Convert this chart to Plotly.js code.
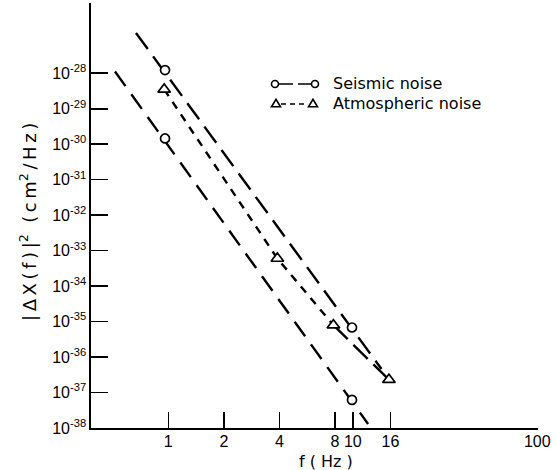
<!DOCTYPE html>
<html>
<head>
<meta charset="utf-8">
<script src="https://cdn.plot.ly/plotly-3.0.1.min.js"></script>
<style>html,body{margin:0;padding:0;background:#fff;}#chart{width:557px;height:470px;}</style>
</head>
<body>
<div id="chart"></div>
<script>
// ---- data ----
const seismicF = [0.96, 9.9];                 // Hz
const seismicUpper = [1.23e-28, 6.8e-36];     // cm^2/Hz
const seismicLower = [1.45e-30, 6.2e-38];
const upperFitF = [0.668, 14.3];
const upperFitY = [1.37e-27, 4.6e-37];
const lowerFitF = [0.514, 12.1];
const lowerFitY = [1.12e-28, 1.30e-38];
const atmF = [0.95, 3.9, 7.85, 15.7];
const atmY = [3.5e-29, 6.0e-34, 7.9e-36, 2.3e-37];
const xTickVals = [1, 2, 4, 8, 10, 16, 100];
const xTickText = ['1', '2', '4', '8', '10', '16', '100'];
const yExponents = [-28, -29, -30, -31, -32, -33, -34, -35, -36, -37, -38];

const yTickVals = yExponents.map(e => Math.pow(10, e));
const yTickText = yExponents.map(e => '10<sup>' + e + '</sup>');

const K = 'black';
const lineW = 2.4;
const traces = [
  {x: upperFitF, y: upperFitY, mode: 'lines', line: {color: K, width: lineW, dash: '20px,9px'}},
  {x: lowerFitF, y: lowerFitY, mode: 'lines', line: {color: K, width: lineW, dash: '18px,10px'}},
  {x: atmF.slice(0, 3), y: atmY.slice(0, 3), mode: 'lines', line: {color: K, width: lineW, dash: '8px,7px'}},
  {x: atmF.slice(2), y: atmY.slice(2), mode: 'lines', line: {color: K, width: lineW, dash: '20px,8px'}},
  {x: seismicF, y: seismicUpper, mode: 'markers', marker: {symbol: 'circle', size: 9, color: 'white', line: {color: K, width: 1.7}}},
  {x: seismicF, y: seismicLower, mode: 'markers', marker: {symbol: 'circle', size: 9, color: 'white', line: {color: K, width: 1.7}}},
  {x: atmF, y: atmY, mode: 'markers', marker: {symbol: 'triangle-up', size: 11, color: 'white', line: {color: K, width: 1.7}}}
];

// pixel -> paper helpers for the hand-made legend and titles
const L = 91, R = 538, T = 3, B = 428;
const px = x => (x - L) / (R - L);
const py = y => (B - y) / (B - T);

const ts = '\u2009';
const sp = s => s.split('').join(ts);
const yTitle = sp('|ΔX(f)|') + '<sup>2</sup>' + '  ' + sp('(cm') + '<sup>2</sup>' + ts + sp('/Hz)');

function tri(cx, cy, w, h) {
  return 'M' + px(cx - w / 2) + ',' + py(cy + h / 2) + ' L' + px(cx + w / 2) + ',' + py(cy + h / 2) +
         ' L' + px(cx) + ',' + py(cy - h / 2) + ' Z';
}

const shapes = [
  {type: 'line', xref: 'paper', yref: 'paper', x0: px(279), x1: px(311), y0: py(84), y1: py(84), line: {color: K, width: 1.7, dash: '14px,5px'}},
  {type: 'circle', xref: 'paper', yref: 'paper', x0: px(271.5), x1: px(278.5), y0: py(87.5), y1: py(80.5), fillcolor: 'white', line: {color: K, width: 1.6}},
  {type: 'circle', xref: 'paper', yref: 'paper', x0: px(311.5), x1: px(318.5), y0: py(87.5), y1: py(80.5), fillcolor: 'white', line: {color: K, width: 1.6}},
  {type: 'line', xref: 'paper', yref: 'paper', x0: px(281), x1: px(308), y0: py(104), y1: py(104), line: {color: K, width: 1.7, dash: '5px,4px'}},
  {type: 'path', xref: 'paper', yref: 'paper', path: tri(276, 103, 9, 7.5), fillcolor: 'white', line: {color: K, width: 1.6}},
  {type: 'path', xref: 'paper', yref: 'paper', path: tri(313, 103, 9, 7.5), fillcolor: 'white', line: {color: K, width: 1.6}}
];

const annotations = [
  {xref: 'paper', yref: 'paper', x: px(331), y: py(84), xanchor: 'left', yanchor: 'middle', showarrow: false,
   text: 'Seismic noise', font: {family: 'DejaVu Sans', size: 16, color: K}},
  {xref: 'paper', yref: 'paper', x: px(331), y: py(103), xanchor: 'left', yanchor: 'middle', showarrow: false,
   text: 'Atmospheric noise', font: {family: 'DejaVu Sans', size: 16, color: K}},
  {xref: 'paper', yref: 'paper', x: px(325.5), y: py(461), xanchor: 'center', yanchor: 'middle', showarrow: false,
   text: 'f ( Hz )', font: {family: 'DejaVu Sans', size: 16, color: K}},
  {xref: 'paper', yref: 'paper', x: px(28), y: py(222), xanchor: 'center', yanchor: 'middle', showarrow: false,
   textangle: -90, text: yTitle, font: {family: 'DejaVu Sans', size: 18, color: K}}
];

const layout = {
  width: 557, height: 470,
  margin: {l: L, r: 557 - R, t: T, b: 470 - B, pad: 0},
  paper_bgcolor: 'white', plot_bgcolor: 'white',
  showlegend: false,
  font: {family: 'Liberation Sans', color: K},
  xaxis: {
    type: 'log', range: [-0.419, 2.0038], tickmode: 'array', tickvals: xTickVals, ticktext: xTickText,
    ticks: 'inside', ticklen: 16, tickwidth: 1.6, tickcolor: K, ticklabelstandoff: -2,
    showline: true, linewidth: 1.6, linecolor: K, showgrid: false, zeroline: false,
    tickfont: {family: 'Liberation Sans', size: 16, color: K}
  },
  yaxis: {
    type: 'log', range: [-38, -26.02], tickmode: 'array', tickvals: yTickVals, ticktext: yTickText,
    ticks: 'inside', ticklen: 17, tickwidth: 1.6, tickcolor: K,
    showline: true, linewidth: 1.6, linecolor: K, showgrid: false, zeroline: false,
    tickfont: {family: 'Liberation Sans', size: 16, color: K}
  },
  shapes: shapes,
  annotations: annotations
};

Plotly.newPlot('chart', traces, layout, {staticPlot: true, displayModeBar: false});
</script>
</body>
</html>
